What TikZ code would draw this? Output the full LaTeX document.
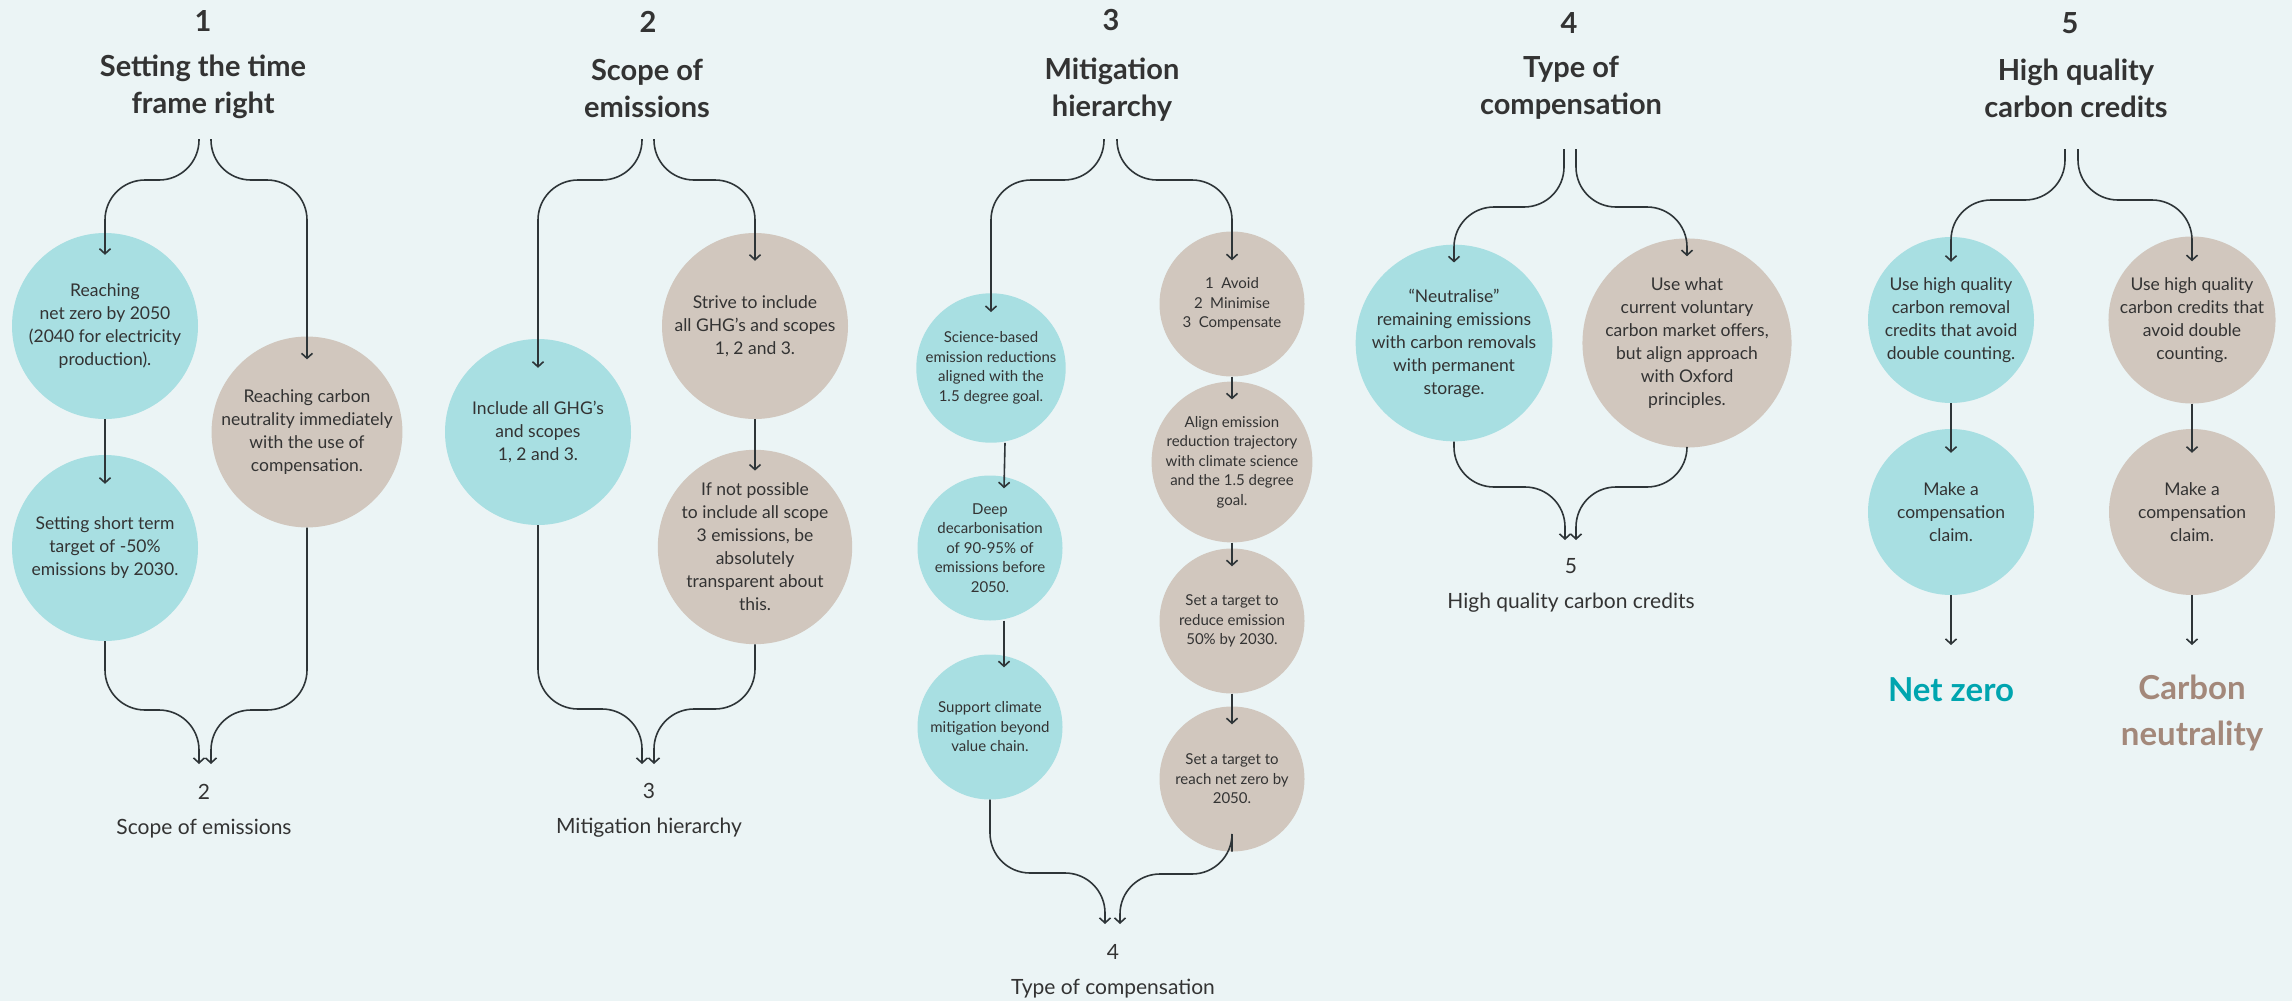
\documentclass[tikz,border=0pt]{standalone}
\usepackage{fontspec}
\setmainfont{Lato}
\usetikzlibrary{arrows.meta}

\definecolor{bgc}{HTML}{EBF4F5}
\definecolor{tealc}{HTML}{A8DFE2}
\definecolor{sandc}{HTML}{D1C7BE}
\definecolor{ink}{HTML}{333333}
\definecolor{wire}{HTML}{2E3538}
\definecolor{nzc}{HTML}{00A5AF}
\definecolor{cnc}{HTML}{A3887A}

\begin{document}
\begin{tikzpicture}[
    x=1pt, y=-1pt,
    bub/.style={circle, minimum size=186pt, inner sep=0pt, align=center,
                text=ink, font=\fontsize{17.5}{23}\selectfont},
    bubsm/.style={bub, minimum size=145pt, font=\fontsize{15}{19.5}\selectfont},
    bubmd/.style={bub, minimum size=166pt},
    nz/.style={fill=tealc},
    cn/.style={fill=sandc},
    num/.style={text=ink, font=\bfseries\fontsize{29}{37}\selectfont},
    head/.style={num, align=center},
    foot/.style={text=ink, align=center, font=\fontsize{21}{35}\selectfont},
    result/.style={anchor=north, inner sep=0pt, align=center,
                   font=\bfseries\fontsize{33}{45.7}\selectfont},
    link/.style={draw=wire, line width=1.6pt, rounded corners=40pt,
                 -{Straight Barb[length=5pt,width=11pt]}}
  ]
  \useasboundingbox (0,0) rectangle (2292,1001);
  \fill[bgc] (0,0) rectangle (2292,1001);

  % 1 -- time frame
  \node[num] (n1) at (203,21) {1};
  \node[head] (h1) at (203,87) {Setting the time\\frame right};
  \coordinate (s1l) at (199,139);
  \coordinate (s1r) at (211,139);
  \node[bub,nz] (p1a) at (105,326) {Reaching\\net zero by 2050\\(2040 for electricity\\production).};
  \node[bub,nz] (p1b) at (105,548) {Setting short term\\target of -50\%\\emissions by 2030.};
  \node[bub,cn] (q1a) at (307,432) {Reaching carbon\\neutrality immediately\\with the use of\\compensation.};
  \draw[link] (s1l) -- ++(0,41) -| ([yshift=-22pt]p1a.north);
  \draw[link] (s1r) -- ++(0,41) -| ([yshift=-23pt]q1a.north);
  \draw[link] (p1a.south) -- ([yshift=-29pt]p1b.north);
  \coordinate (e1l) at (199,764);
  \coordinate (e1r) at (211,764);
  \draw[link] (p1b.south) |- ([yshift=54pt]e1l) -- (e1l);
  \draw[link] (q1a.south) |- ([yshift=54pt]e1r) -- (e1r);
  \node[foot] (f1) at (204,811) {2\\Scope of emissions};

  % 2 -- scope
  \node[num] (n2) at (648,22) {2};
  \node[head] (h2) at (647,88) {Scope of\\emissions};
  \coordinate (s2l) at (642,139);
  \coordinate (s2r) at (654,139);
  \node[bub,nz] (p2a) at (538,432) {Include all GHG’s\\and scopes\\1, 2 and 3.};
  \node[bub,cn] (q2a) at (755,326) {Strive to include\\all GHG’s and scopes\\1, 2 and 3.};
  \node[bub,cn] (q2b) at (755,547) {If not possible\\to include all scope\\3 emissions, be\\absolutely\\transparent about\\this.};
  \draw[link] (s2l) -- ++(0,41) -| ([yshift=-29pt]p2a.north);
  \draw[link] (s2r) -- ++(0,41) -| ([yshift=-28pt]q2a.north);
  \draw[link] (q2a.south) -- ([yshift=-21pt]q2b.north);
  \coordinate (e2l) at (642,764);
  \coordinate (e2r) at (654,764);
  \draw[link] (p2a.south) |- ([yshift=55pt]e2l) -- (e2l);
  \draw[link] (q2b.south) |- ([yshift=55pt]e2r) -- (e2r);
  \node[foot] (f2) at (649,810) {3\\Mitigation hierarchy};

  % 3 -- mitigation
  \node[num] (n3) at (1111,20) {3};
  \node[head] (h3) at (1112,90) {Mitigation\\hierarchy};
  \coordinate (s3l) at (1104,139);
  \coordinate (s3r) at (1117,139);
  \node[bubsm,nz] (p3a) at (991,368) {Science-based\\emission reductions\\aligned with the\\1.5 degree goal.};
  \node[bubsm,nz] (p3b) at (990,548) {Deep\\decarbonisation\\of 90-95\% of\\emissions before\\2050.};
  \node[bubsm,nz] (p3c) at (990,727) {Support climate\\mitigation beyond\\value chain.};
  \node[bubsm,cn] (q3a) at (1232,304) {1\enspace Avoid\\2\enspace Minimise\\3\enspace Compensate};
  \node[bubsm,cn] (q3b) at (1232,462) {Align emission\\reduction trajectory\\with climate science\\and the 1.5 degree\\goal.};
  \node[bubsm,cn] (q3c) at (1232,621) {Set a target to\\reduce emission\\50\% by 2030.};
  \node[bubsm,cn] (q3d) at (1232,779) {Set a target to\\reach net zero by\\2050.};
  \draw[link] (s3l) -- ++(0,41) -| ([yshift=-19pt]p3a.north);
  \draw[link] (s3r) -- ++(0,41) -| ([yshift=-29pt]q3a.north);
  \foreach \u/\v in {p3a/p3b, p3b/p3c}
    \draw[link] ([xshift=14pt]\u.south) -- ([xshift=14pt,yshift=-13pt]\v.north);
  \foreach \u/\v in {q3a/q3b, q3b/q3c, q3c/q3d}
    \draw[link] (\u.south) -- ([yshift=-18pt]\v.north);
  \coordinate (e3l) at (1105,924);
  \coordinate (e3r) at (1120,924);
  \draw[link] (p3c.south) |- ([yshift=51pt]e3l) -- (e3l);
  \draw[link] (q3d.south) |- ([yshift=50pt]e3r) -- (e3r);
  \node[foot] (f3) at (1113,971) {4\\Type of compensation};

  % 4 -- compensation
  \node[num] (n4) at (1569,23) {4};
  \node[head] (h4) at (1571,88) {Type of\\compensation};
  \coordinate (s4l) at (1564,149);
  \coordinate (s4r) at (1576,149);
  \node[bub,nz] (p4a) at (1454,343) {“Neutralise”\\remaining emissions\\with carbon removals\\with permanent\\storage.};
  \node[bub,cn] (q4a) at (1687,343) {Use what\\current voluntary\\carbon market offers,\\but align approach\\with Oxford\\principles.};
  \draw[link] (s4l) -- ++(0,58) -| ([yshift=-18pt]p4a.north);
  \draw[link] (s4r) -- ++(0,58) -| ([yshift=-18pt]q4a.north);
  \coordinate (e4l) at (1565,540);
  \coordinate (e4r) at (1576,540);
  \draw[link] (p4a.south) |- ([yshift=53pt]e4l) -- (e4l);
  \draw[link] (q4a.south) |- ([yshift=53pt]e4r) -- (e4r);
  \node[foot] (f4) at (1571,585) {5\\High quality carbon credits};

  % 5 -- credits
  \node[num] (n5) at (2070,23) {5};
  \node[head] (h5) at (2076,88) {High quality\\carbon credits};
  \coordinate (s5l) at (2065,149);
  \coordinate (s5r) at (2078,149);
  \node[bubmd,nz] (p5a) at (1951,320) {Use high quality\\carbon removal\\credits that avoid\\double counting.};
  \node[bubmd,nz] (p5b) at (1951,512) {Make a\\compensation\\claim.};
  \node[bubmd,cn] (q5a) at (2192,320) {Use high quality\\carbon credits that\\avoid double\\counting.};
  \node[bubmd,cn] (q5b) at (2192,512) {Make a\\compensation\\claim.};
  \draw[link] (s5l) -- ++(0,51) -| ([yshift=-25pt]p5a.north);
  \draw[link] (s5r) -- ++(0,51) -| ([yshift=-25pt]q5a.north);
  \draw[link] (p5a.south) -- ([yshift=-24pt]p5b.north);
  \draw[link] (q5a.south) -- ([yshift=-24pt]q5b.north);
  \node[result,text=nzc] (r5a) at (1951,677) {Net zero};
  \node[result,text=cnc] (r5b) at (2192,675) {Carbon\\neutrality};
  \draw[link] (p5b.south) -- ([yshift=32pt]r5a.north);
  \draw[link] (q5b.south) -- ([yshift=30pt]r5b.north);
\end{tikzpicture}
\end{document}
